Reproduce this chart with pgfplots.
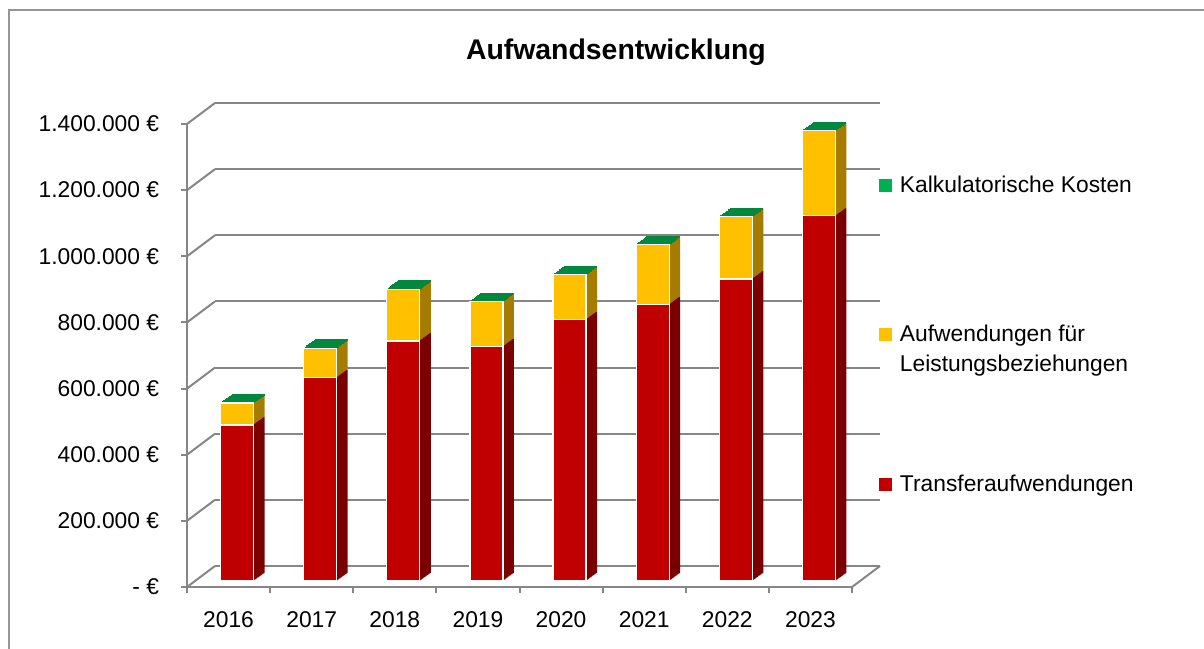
\documentclass[border=0pt]{standalone}
\usepackage{fontspec}
\setmainfont{Liberation Sans}
\usepackage{pgfplots}
\pgfplotsset{compat=1.18}
\usepackage{pgfplotstable}

\definecolor{redF}{RGB}{192,0,0}
\definecolor{redS}{RGB}{122,0,0}
\definecolor{yelF}{RGB}{255,192,0}
\definecolor{yelS}{RGB}{166,124,0}
\definecolor{grnF}{RGB}{0,176,80}
\definecolor{grnT}{RGB}{0,136,62}
\definecolor{gridgray}{RGB}{134,134,134}
\definecolor{framegray}{RGB}{150,150,150}

\pgfplotstableread{
x   transfer leistung kalk
0.5 472000   66000    0
1.5 615000   89000    0
2.5 726000   156000   0
3.5 709000   136000   0
4.5 790000   136000   0
5.5 836000   181000   0
6.5 913000   188000   0
7.5 1104000  257000   0
}\costs

\pgfplotsset{
  barbase/.style={
    scale only axis, width=332.5pt, height=231.5pt,
    xmin=0, xmax=8, ymin=0, ymax=1400000,
    anchor=south west, scaled y ticks=false,
  },
  hiddenbars/.style={barbase, hide axis, ybar stacked, bar width=16.5pt},
}

\begin{document}
\fontsize{11.4}{13.7}\selectfont
\begin{tikzpicture}
\useasboundingbox (0,0) rectangle (602pt,324pt);
\draw[framegray, line width=0.75pt] (4.5pt,-5pt) -- (4.5pt,319pt) -- (610pt,319pt);

% back wall with gridlines
\begin{axis}[barbase, at={(107.5pt,41pt)},
  axis line style={draw=none}, xtick=\empty,
  ytick={0,200000,400000,600000,800000,1000000,1200000,1400000},
  yticklabel=\empty, ytick style={draw=none},
  ymajorgrids, grid style={gridgray, line width=1pt}]
\end{axis}

% front frame: axes, tick labels, side-wall lines
\begin{axis}[barbase, at={(93.5pt,30.5pt)}, clip=false,
  axis x line*=bottom, axis y line*=left,
  axis line style={gridgray, line width=1pt},
  tick style={gridgray, line width=1pt},
  tick align=outside, major tick length=3pt, minor tick length=3pt,
  ytick={0,200000,400000,600000,800000,1000000,1200000,1400000},
  yticklabels={- €,200.000 €,400.000 €,600.000 €,800.000 €,1.000.000 €,1.200.000 €,1.400.000 €},
  yticklabel style={inner sep=0pt, anchor=east, xshift=-10.75pt},
  xtick={0.5,1.5,2.5,3.5,4.5,5.5,6.5,7.5},
  xticklabels={2016,2017,2018,2019,2020,2021,2022,2023},
  minor xtick={0,1,2,3,4,5,6,7,8},
  major x tick style={draw=none},
  xticklabel style={inner sep=0pt, anchor=north, yshift=-9pt},
  title={Aufwandsentwicklung},
  every axis title shift=0pt,
  title style={at={(axis description cs:0.645,1.140)}, anchor=base, inner sep=0pt,
    font=\fontsize{14.2}{17}\selectfont\bfseries}]
\pgfplotsinvokeforeach{0,200000,400000,600000,800000,1000000,1200000,1400000}{
  \draw[gridgray, line width=1pt] (axis cs:0,#1) -- ++(14pt,10.5pt);}
\draw[gridgray, line width=1pt] (axis cs:8,0) -- ++(14pt,10.5pt);
\end{axis}

% depth of the bars (side faces, and the green top face of each stack)
\foreach \k in {12,11,...,1}{
  \begin{axis}[hiddenbars, clip=false, at={({97.75pt+\k*5.5pt/12},{33.5pt+\k*4pt/12})}]
    \addplot[fill=redS, draw=none] table[x=x,y=transfer]{\costs};
    \addplot[fill=yelS, draw=none] table[x=x,y=leistung]{\costs};
    \addplot[stack plots=false, sharp plot, only marks, mark=-, mark size=8.25pt,
      mark options={draw=grnT, line width=0.9pt}]
      table[x=x, y expr=\thisrow{transfer}+\thisrow{leistung}+\thisrow{kalk}]{\costs};
  \end{axis}
}

% front faces and legend
\begin{axis}[hiddenbars, at={(97.75pt,33.5pt)},
  legend image code/.code={\fill[#1, draw=none] (0pt,-3.85pt) rectangle (6.5pt,2.65pt);},
  reverse legend, legend cell align=left,
  legend style={at={(1.0278,0.8747)}, anchor=north west, draw=none, fill=none,
    inner sep=0pt, outer sep=0pt, row sep=66.75pt, column sep=4pt,
    nodes={inner sep=0pt, text height=8pt, text depth=0pt,
      font=\fontsize{11.4}{15}\selectfont}}]
  \addplot[fill=redF, draw=white, line width=0.6pt] table[x=x,y=transfer]{\costs};
  \addlegendentry{Transferaufwendungen}
  \addplot[fill=yelF, draw=white, line width=0.6pt] table[x=x,y=leistung]{\costs};
  \addlegendentry{\begin{tabular}[t]{@{}l@{}}Aufwendungen für\\Leistungsbeziehungen\end{tabular}}
  \addplot[fill=grnF, draw=white, line width=0.6pt] table[x=x,y=kalk]{\costs};
  \addlegendentry{Kalkulatorische Kosten}
\end{axis}
\end{tikzpicture}
\end{document}
